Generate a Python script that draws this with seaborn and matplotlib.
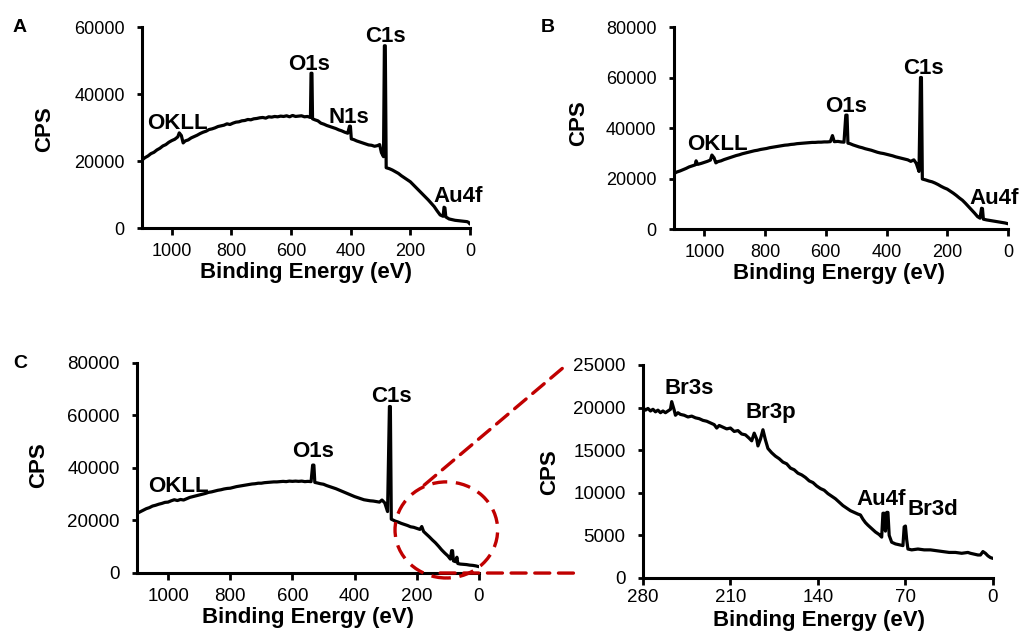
import matplotlib
matplotlib.use("Agg")
import matplotlib.pyplot as plt
import pandas as pd
import seaborn as sns
from matplotlib.patches import Ellipse, ConnectionPatch

# ---------------- Survey spectrum A ----------------
energy_a = [1100, 1090, 1080, 1070, 1060, 1050, 1040, 1030, 1020, 1010, 1000, 990, 980, 975,
            968, 962, 955, 945, 935, 925, 915, 905, 895, 885, 875, 865, 855, 845, 835, 825,
            815, 805, 795, 785, 775, 765, 755, 745, 735, 725, 715, 705, 695, 685, 675, 665,
            655, 645, 635, 625, 615, 605, 595, 585, 575, 565, 555, 545, 535, 533, 530, 528,
            520, 510, 500, 490, 480, 470, 460, 450, 440, 430, 420, 410, 404, 401, 398, 390,
            380, 370, 360, 350, 340, 330, 320, 310, 303, 297, 290, 287, 284, 281, 270, 260,
            250, 240, 230, 220, 210, 200, 190, 180, 170, 160, 150, 140, 130, 120, 110, 100,
            90, 87, 84, 81, 70, 60, 50, 40, 30, 20, 10, 5, 0]
cps_a = [20300, 21000, 21500, 22200, 22600, 23300, 23800, 24500, 24900, 25600, 26100, 26500,
         27200, 28400, 27600, 25400, 26000, 26300, 26900, 27300, 27700, 28200, 28600, 28900,
         29400, 29600, 29900, 30300, 30500, 30700, 31100, 30900, 31300, 31600, 31700, 32000,
         32100, 32400, 32300, 32600, 32700, 32900, 33000, 32800, 33200, 33100, 33300, 33200,
         33400, 33300, 33500, 33200, 33600, 33300, 33400, 33500, 33200, 33300, 33000, 46200,
         46200, 32600, 32300, 32000, 31300, 31000, 30600, 30300, 30000, 29700, 29300, 29000,
         28600, 28300, 30400, 30400, 26600, 26400, 26000, 25700, 25400, 25100, 24800, 24700,
         24400, 24600, 24900, 22500, 21300, 54400, 54400, 18000, 17700, 17300, 16800, 16300,
         15600, 15000, 14400, 13800, 12900, 12000, 11100, 10200, 9300, 8400, 7400, 6400, 5100,
         3900, 3500, 6200, 6000, 3300, 2700, 2500, 2300, 2200, 2100, 2000, 1900, 1700, 1200]

# ---------------- Survey spectrum B ----------------
energy_b = [1100, 1090, 1080, 1070, 1060, 1050, 1040, 1030, 1027, 1022, 1010, 1000, 990, 980,
            975, 968, 962, 955, 945, 935, 925, 915, 905, 895, 885, 875, 865, 855, 845, 835,
            825, 815, 805, 795, 785, 775, 765, 755, 745, 735, 725, 715, 705, 695, 685, 675,
            665, 655, 645, 635, 625, 615, 605, 595, 585, 578, 572, 560, 550, 540, 534, 530,
            527, 520, 510, 500, 490, 480, 470, 460, 450, 440, 430, 420, 410, 400, 390, 380,
            370, 360, 350, 340, 330, 320, 310, 302, 293, 288, 285, 282, 270, 260, 250, 240,
            230, 220, 210, 200, 190, 180, 170, 160, 150, 140, 130, 120, 110, 100, 92, 87, 84,
            81, 70, 60, 50, 40, 30, 20, 10, 0]
cps_b = [22000, 22600, 23000, 23500, 24000, 24600, 25000, 25400, 27000, 25600, 26000, 26400,
         26800, 27300, 29300, 28200, 26200, 26700, 27000, 27500, 27900, 28300, 28700, 29100,
         29400, 29800, 30100, 30400, 30700, 31000, 31200, 31500, 31700, 31900, 32200, 32400,
         32600, 32800, 33000, 33200, 33300, 33500, 33600, 33800, 33900, 34000, 34100, 34200,
         34300, 34300, 34400, 34400, 34500, 34500, 34600, 37000, 34600, 34700, 34500, 34400,
         45100, 45100, 34000, 33800, 33300, 32900, 32500, 32200, 31800, 31500, 31200, 30800,
         30400, 30100, 29900, 29600, 29300, 29000, 28600, 28300, 28000, 27700, 27400, 26800,
         27400, 26000, 22800, 60000, 60000, 19800, 19400, 19000, 18700, 18200, 17600, 16900,
         16300, 15800, 15000, 14200, 13300, 12300, 11400, 10200, 8900, 7600, 6300, 4900, 4300,
         8200, 8100, 3900, 3600, 3400, 3200, 3000, 2800, 2600, 2400, 2100]

# ---------------- Survey spectrum C ----------------
energy_c = [1100, 1090, 1080, 1070, 1060, 1050, 1040, 1030, 1020, 1010, 1000, 990, 980, 970,
            960, 950, 940, 930, 920, 910, 900, 890, 880, 870, 860, 850, 840, 830, 820, 810,
            800, 790, 780, 770, 760, 750, 740, 730, 720, 710, 700, 690, 680, 670, 660, 650,
            640, 630, 620, 610, 600, 590, 580, 570, 560, 550, 540, 535, 531, 528, 520, 510,
            500, 490, 480, 470, 460, 450, 440, 430, 420, 410, 400, 390, 380, 370, 360, 350,
            340, 330, 320, 312, 303, 294, 288, 285, 282, 270, 260, 250, 240, 230, 220, 210,
            200, 190, 184, 178, 170, 160, 150, 140, 130, 120, 110, 100, 92, 88, 85, 82, 75,
            71, 68, 60, 50, 40, 30, 20, 10, 0]
cps_c = [22700, 23300, 23900, 24500, 24900, 25500, 25800, 26200, 26500, 26900, 27000, 27500,
         27900, 27600, 28000, 27800, 28300, 28800, 29100, 29400, 29700, 30000, 30300, 30700,
         30900, 31200, 31500, 31700, 32000, 32200, 32300, 32600, 32900, 33100, 33300, 33500,
         33700, 33900, 34000, 34200, 34200, 34400, 34500, 34600, 34700, 34700, 34800, 34900,
         34800, 35000, 34900, 35000, 34900, 35000, 34800, 34900, 34800, 41100, 41100, 34500,
         34300, 34000, 33800, 33300, 32900, 32500, 32100, 31600, 31100, 30600, 30100, 29600,
         29100, 28700, 28300, 27900, 27700, 27500, 27400, 27200, 27000, 27800, 26700, 23400,
         63400, 63400, 20500, 19800, 19400, 18900, 18500, 18100, 17600, 17400, 17000, 16600,
         17700, 15800, 14900, 13800, 12600, 11500, 10200, 8800, 7600, 6500, 5300, 8500, 8500,
         4600, 4300, 6000, 3600, 3400, 3300, 3200, 3000, 2900, 2700, 2400]

# ---------------- High-resolution scan (0-280 eV) ----------------
energy_d = [280, 278, 276, 274, 272, 270, 268, 266, 264, 262, 260, 258, 257, 255, 254, 252,
            250, 247, 244, 241, 238, 235, 232, 229, 226, 223, 221, 219, 216, 213, 210, 207,
            204, 201, 198, 195, 193, 191, 189, 188, 186, 184, 182, 180, 177, 174, 171, 168,
            165, 162, 159, 156, 153, 150, 147, 144, 141, 138, 135, 132, 129, 126, 123, 120,
            117, 114, 111, 108, 106, 104, 102, 100, 97, 94, 91, 89, 88, 87, 86, 85, 84, 83,
            81, 78, 75, 72, 71, 70, 69, 68, 65, 60, 55, 50, 45, 40, 35, 30, 25, 20, 18, 15,
            12, 10, 8, 6, 4, 2, 0]
cps_d = [20000, 19700, 19900, 19600, 19800, 19500, 19700, 19400, 19600, 19400, 19600, 19800,
         20700, 19700, 19100, 19400, 19200, 19100, 18900, 19000, 18800, 18700, 18500, 18400,
         18200, 18000, 17600, 17900, 17700, 17500, 17600, 17200, 17300, 16900, 16800, 16400,
         16100, 17000, 16300, 15500, 16300, 17400, 16200, 15200, 14700, 14300, 14000, 13600,
         13400, 12900, 12700, 12300, 12100, 11800, 11400, 11200, 10800, 10500, 10300, 9900,
         9600, 9300, 8900, 8500, 8200, 7900, 7700, 7500, 7400, 6900, 6500, 6200, 5800, 5400,
         5100, 4800, 7600, 7600, 5500, 7700, 7700, 5000, 4200, 4000, 3900, 3800, 6000, 6100,
         4500, 3400, 3300, 3400, 3300, 3300, 3200, 3100, 3000, 3000, 2900, 3000, 2900, 2800,
         2700, 2700, 3100, 2900, 2600, 2400, 2300]

# Peak labels: (text, binding energy, CPS at baseline)
labels_a = [("OKLL", 980, 29460), ("O1s", 540, 47160), ("N1s", 406, 31250),
            ("C1s", 282, 55600), ("Au4f", 40, 7850)]
labels_b = [("OKLL", 957, 31290), ("O1s", 534, 46460), ("C1s", 280, 61390),
            ("Au4f", 44, 9900)]
labels_c = [("OKLL", 968, 30740), ("O1s", 535, 44300), ("C1s", 281, 65270)]
labels_d = [("Br3s", 243, 21590), ("Br3p", 178, 18730), ("Au4f", 89, 8540),
            ("Br3d", 48, 7370)]

survey_xticks = [1000, 800, 600, 400, 200, 0]
zoom_xticks = [280, 210, 140, 70, 0]

sns.set_theme(style="ticks")
plt.rcParams["font.family"] = ["Liberation Sans", "DejaVu Sans"]

fig = plt.figure(figsize=(10.23, 6.33), dpi=100)
ax_a = fig.add_axes([0.1388, 0.6398, 0.3206, 0.3175])
ax_b = fig.add_axes([0.6588, 0.6382, 0.3265, 0.3191])
ax_c = fig.add_axes([0.1339, 0.0948, 0.3343, 0.3318])
ax_d = fig.add_axes([0.6285, 0.0869, 0.3421, 0.3365])


def draw(ax, energy, cps, labels, xlim, xticks, ylim, yticks, tick_fs, xpad,
         ylab_xy, xlab_xy):
    df = pd.DataFrame({"Binding Energy (eV)": energy, "CPS": cps})
    sns.lineplot(data=df, x="Binding Energy (eV)", y="CPS", ax=ax, color="black",
                 linewidth=2.3, estimator=None, sort=True)
    ax.set_xlim(*xlim)
    ax.set_ylim(*ylim)
    ax.set_xticks(xticks)
    ax.set_yticks(yticks)
    ax.set_xticklabels([str(t) for t in xticks])
    ax.set_yticklabels([str(t) for t in yticks])
    sns.despine(ax=ax)
    for side in ("left", "bottom"):
        ax.spines[side].set_linewidth(2.2)
        ax.spines[side].set_color("black")
    ax.tick_params(axis="x", length=5, width=2, pad=xpad, labelsize=tick_fs,
                   colors="black", direction="out")
    ax.tick_params(axis="y", length=3.5, width=2, pad=9, labelsize=tick_fs,
                   colors="black", direction="out")
    ax.set_xlabel("Binding Energy (eV)", fontsize=16, fontweight="bold", color="black")
    ax.set_ylabel("CPS", fontsize=16, fontweight="bold", color="black")
    ax.yaxis.set_label_coords(*ylab_xy)
    ax.xaxis.set_label_coords(*xlab_xy)
    for text, e, v in labels:
        ax.text(e, v, text, ha="center", va="baseline", fontsize=16,
                fontweight="bold", color="black")
    ax.set_facecolor("white")


draw(ax_a, energy_a, cps_a, labels_a, (1100, 0), survey_xticks, (0, 60000),
     [0, 20000, 40000, 60000], 13, 6, (-0.265, 0.4925), (0.5, -0.17))
draw(ax_b, energy_b, cps_b, labels_b, (1100, 0), survey_xticks, (0, 80000),
     [0, 20000, 40000, 60000, 80000], 13, 6, (-0.255, 0.525), (0.495, -0.17))
draw(ax_c, energy_c, cps_c, labels_c, (1100, 0), survey_xticks, (0, 80000),
     [0, 20000, 40000, 60000, 80000], 13.5, 6, (-0.258, 0.514), (0.501, -0.162))
draw(ax_d, energy_d, cps_d, labels_d, (280, 0), zoom_xticks, (0, 25000),
     [0, 5000, 10000, 15000, 20000, 25000], 13.5, 3, (-0.237, 0.498), (0.503, -0.15))

# Panel letters
for letter, (fx, fy) in {"A": (0.0196, 0.957), "B": (0.5357, 0.957),
                         "C": (0.0196, 0.425)}.items():
    fig.text(fx, fy, letter, ha="center", va="center", fontsize=14, fontweight="bold",
             color="black")

# Dashed circle marking the low binding-energy region and its zoom guides
red = "#C00000"
ring = Ellipse((105, 16400), width=330, height=36600, fill=False, edgecolor=red,
               linewidth=2.4, linestyle=(0, (4.5, 2.6)), clip_on=False, zorder=5)
ax_c.add_patch(ring)
for (xa, ya), (xb, yb) in [((176, 33500), (-0.229, 0.986)), ((125, 0), (-0.174, 0.023))]:
    con = ConnectionPatch(xyA=(xa, ya), coordsA=ax_c.transData,
                          xyB=(xb, yb), coordsB=ax_d.transAxes,
                          color=red, linewidth=2.4, linestyle=(0, (4.5, 2.6)))
    fig.add_artist(con)

fig.savefig("out.png", dpi=100, facecolor="white")
